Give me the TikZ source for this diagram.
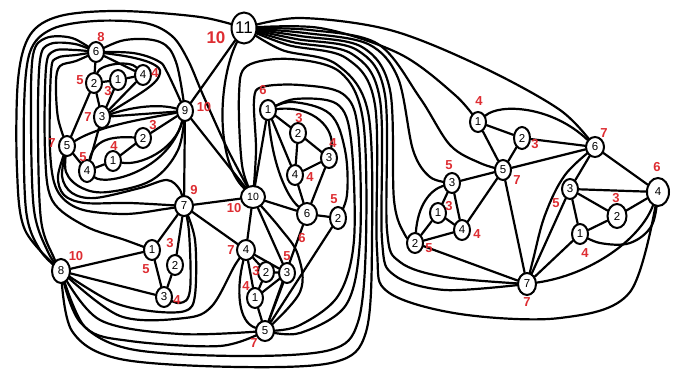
\documentclass[tikz,border=0pt]{standalone}
\usepackage{fontspec}
\setmainfont{Liberation Sans}
\usetikzlibrary{shapes.geometric,backgrounds}
\definecolor{labred}{RGB}{222,45,50}
\begin{document}
\begin{tikzpicture}[x=1pt,y=-1pt,
 v/.style={ellipse,draw,line width=2pt,fill=white,inner sep=0pt,minimum width=16pt,minimum height=20pt,font=\fontsize{11.5}{11.5}\selectfont},
 lab/.style={text=labred,inner sep=0pt,font=\fontsize{13}{13}\selectfont\bfseries},
 e/.style={line width=2.2pt,line cap=round,line join=round}
]
\path[use as bounding box] (0,0) rectangle (680,372);
% ---------- nodes ----------
\node[v,minimum width=21pt,minimum height=31pt,font=\fontsize{17}{17}\selectfont] (K) at (244,28) {11};
\node[v] (a6) at (96,52) {6};
\node[v] (a2) at (94,83) {2};
\node[v] (a1) at (118,80) {1};
\node[v] (a4) at (143,75) {4};
\node[v,minimum height=22pt] (a3) at (102,117) {3};
\node[v] (a9) at (185,111) {9};
\node[v] (a5) at (67,146) {5};
\node[v] (b2) at (143,138) {2};
\node[v] (b1) at (113,161) {1};
\node[v,minimum height=22pt] (b4) at (87,171) {4};
\node[v,minimum width=18pt] (a7) at (184,206) {7};
\node[v,minimum width=24pt,minimum height=22pt,font=\fontsize{10.5}{10.5}\selectfont] (m10) at (253,197) {10};
\node[v,minimum width=18pt,minimum height=24pt] (a8) at (61,271) {8};
\node[v] (c1) at (152,250) {1};
\node[v] (c2) at (175,265) {2};
\node[v] (c3) at (164,297) {3};
\node[v,minimum width=18pt] (d4) at (246,250) {4};
\node[v] (d2) at (266,272) {2};
\node[v] (d3) at (287,273) {3};
\node[v] (d1) at (255,298) {1};
\node[v,minimum width=18pt] (d5) at (265,331) {5};
\node[v] (e1) at (268,110) {1};
\node[v] (e2) at (298,133) {2};
\node[v] (e3) at (329,158) {3};
\node[v] (e4) at (295,175) {4};
\node[v,minimum width=20pt,minimum height=22pt] (e6) at (307,214) {6};
\node[v,minimum height=22pt] (f2) at (338,218) {2};
\node[v] (r1) at (478,122) {1};
\node[v,minimum height=22pt] (r2) at (522,138) {2};
\node[v] (r5) at (503,170) {5};
\node[v,minimum width=18pt] (r6) at (595,147) {6};
\node[v] (r3) at (452,183) {3};
\node[v] (q1) at (438,213) {1};
\node[v] (r4) at (462,230) {4};
\node[v] (q2) at (415,243) {2};
\node[v,minimum width=18pt,minimum height=22pt] (r7) at (527,284) {7};
\node[v] (s3) at (570,189) {3};
\node[v,minimum width=19pt,minimum height=24pt] (s2) at (617,216) {2};
\node[v,minimum width=22pt,minimum height=28pt] (s4) at (658,192) {4};
\node[v] (s1) at (580,234) {1};
% ---------- red labels ----------
\node[lab,font=\fontsize{17}{17}\selectfont\bfseries] (t0) at (216,38) {10};
\node[lab] (t1) at (101,37) {8};
\node[lab] (t2) at (80,80) {5};
\node[lab] (t3) at (108,91) {3};
\node[lab] (t4) at (155,73) {4};
\node[lab] (t5) at (88,117) {7};
\node[lab] (t6) at (204,107) {10};
\node[lab] (t7) at (153,125) {3};
\node[lab] (t8) at (52,143) {7};
\node[lab] (t9) at (114,146) {4};
\node[lab] (t10) at (83,157) {5};
\node[lab] (t11) at (194,190) {9};
\node[lab] (t12) at (234,208) {10};
\node[lab] (t13) at (76,256) {10};
\node[lab] (t14) at (170,243) {3};
\node[lab] (t15) at (146,269) {5};
\node[lab] (t16) at (177,300) {4};
\node[lab] (t17) at (231,250) {7};
\node[lab] (t18) at (256,271) {3};
\node[lab] (t19) at (287,256) {5};
\node[lab] (t20) at (246,286) {4};
\node[lab] (t21) at (254,343) {7};
\node[lab] (t22) at (263,90) {6};
\node[lab] (t23) at (299,118) {3};
\node[lab] (t24) at (333,143) {4};
\node[lab] (t25) at (310,177) {4};
\node[lab] (t26) at (302,238) {6};
\node[lab] (t27) at (334,199) {5};
\node[lab] (t28) at (479,101) {4};
\node[lab] (t29) at (535,144) {3};
\node[lab] (t30) at (517,180) {7};
\node[lab] (t31) at (604,133) {7};
\node[lab] (t32) at (449,165) {5};
\node[lab] (t33) at (449,206) {3};
\node[lab] (t34) at (477,234) {4};
\node[lab] (t35) at (429,248) {5};
\node[lab] (t36) at (527,302) {7};
\node[lab] (t37) at (556,203) {5};
\node[lab] (t38) at (616,198) {3};
\node[lab] (t39) at (657,167) {6};
\node[lab] (t40) at (585,253) {4};
% ---------- edges ----------
\begin{pgfonlayer}{background}
\fill[white] (0,0) rectangle (680,372);
% left cluster
\draw[e] (a6)--(a2) (a2)--(a1) (a1)--(a4) (a6)--(a4) (a2)--(a3) (a1)--(a3) (a4)--(a3)
 (a3)--(a9) (a2)--(a5) (a5)--(b4) (a3)--(b4) (b4)--(b1) (b1)--(b2) (b2)--(a9);
\draw[e] (a2) .. controls (100,64) and (130,60) .. (a4);
\draw[e] plot[smooth,tension=.6] coordinates {(a6.center) (130,57) (153,64) (160,73) (148,88) (a3.center)};
\draw[e] plot[smooth,tension=.6] coordinates {(a6.center) (133,53) (158,61) (167,72) (a9.center)};
\draw[e] (a3) .. controls (135,106) and (160,104) .. (a9);
\draw[e] (a5) .. controls (100,125) and (150,118) .. (a9);
\draw[e] (b4) .. controls (94,140) and (110,136) .. (b2);
\draw[e] (b1) .. controls (140,166) and (175,150) .. (a9);
\draw[e] (b4) .. controls (105,186) and (168,172) .. (a9);
\draw[e] plot[smooth,tension=.6] coordinates {(a6.center) (125,40) (160,42) (176,62) (a9.center)};
\draw[e] plot[smooth,tension=.6] coordinates {(a5.center) (66,172) (82,188) (108,192) (152,180) (178,150) (a9.center)};
% hubs
\draw[e] (K)--(a9) (a9)--(m10) (a9)--(a7) (a7)--(m10) (a7)--(c1) (a7)--(c2) (c1)--(c3) (c2)--(c3)
 (a8)--(c1) (a8)--(c3) (a7)--(d4) (m10)--(d4) (m10)--(e1) (m10)--(e6) (m10)--(d3);
\draw[e] (K) .. controls (218,80) and (215,160) .. (m10);
% wraps on the left
\draw[e] plot[smooth,tension=.55] coordinates {(K.center) (200,17) (120,11) (60,16) (30,35) (18,80) (17,170) (25,230) (a8.center)};
\draw[e] plot[smooth,tension=.55] coordinates {(a8.center) (40,250) (26,210) (24,110) (30,52) (52,29) (95,21) (145,23) (172,36) (188,60) (203,95) (228,150) (m10.center)};
\draw[e] plot[smooth,tension=.55] coordinates {(a6.center) (72,38) (46,38) (33,55) (31,120) (34,210) (48,252) (a8.center)};
\draw[e] plot[smooth,tension=.55] coordinates {(a6.center) (75,44) (50,44) (40,60) (38,130) (41,220) (54,258) (a8.center)};
\draw[e] plot[smooth,tension=.55] coordinates {(a6.center) (75,50) (54,51) (46,68) (45,150) (52,200) (85,226) (125,240) (c1.center)};
\draw[e] plot[smooth,tension=.55] coordinates {(a6.center) (76,55) (57,58) (51,72) (50,150) (57,190) (80,209) (125,214) (165,209) (a7.center)};
\draw[e] plot[smooth,tension=.55] coordinates {(a6.center) (76,61) (60,66) (56,82) (58,118) (a5.center)};
\draw[e] plot[smooth,tension=.55] coordinates {(a5.center) (58,176) (64,195) (85,203) (130,203) (a7.center)};
\draw[e] plot[smooth,tension=.55] coordinates {(a5.center) (62,176) (72,193) (95,198) (140,188) (167,180) (180,190) (a7.center)};
% c and d clusters
\draw[e] plot[smooth,tension=.6] coordinates {(a7.center) (189,232) (190,290) (180,303) (c3.center)};
\draw[e] plot[smooth,tension=.55] coordinates {(a8.center) (110,301) (150,311) (185,311) (195,295) (195,240) (a7.center)};
\draw[e] plot[smooth,tension=.55] coordinates {(a8.center) (120,316) (185,318) (212,306) (235,265) (d4.center)};
\draw[e] plot[smooth,tension=.55] coordinates {(a8.center) (100,320) (180,334) (d5.center)};
\draw[e] plot[smooth,tension=.55] coordinates {(a8.center) (85,327) (130,341) (220,346) (d5.center)};
\draw[e] (d4)--(d2) (d4)--(d3) (d4)--(d1) (d2)--(d3) (d2)--(d1) (d1)--(d3) (d1)--(d5) (d3)--(d5) (e6)--(d5) (f2)--(d5);
\draw[e] (d4) .. controls (236,290) and (238,322) .. (d5);
\draw[e] plot[smooth,tension=.6] coordinates {(m10.center) (280,228) (298,255) (300,292) (d5.center)};
% e cluster
\draw[e] (e1)--(e2) (e2)--(e3) (e2)--(e4) (e3)--(e4) (e1)--(e4) (e4)--(e6) (e3)--(e6) (e6)--(f2);
\draw[e] (e1) .. controls (272,160) and (285,195) .. (e6);
\draw[e] (e1) .. controls (315,105) and (335,130) .. (e3);
\draw[e] plot[smooth,tension=.6] coordinates {(e1.center) (292,102) (330,114) (345,150) (347,195) (f2.center)};
\draw[e] plot[smooth,tension=.55] coordinates {(e1.center) (295,99) (337,104) (351,140) (354,240) (338,296) (298,326) (d5.center)};
\draw[e] plot[smooth,tension=.55] coordinates {(m10.center) (256,150) (254,100) (262,87) (300,85) (343,94) (358,130) (360,240) (346,305) (300,333) (d5.center)};
\draw[e] plot[smooth,tension=.55] coordinates {(m10.center) (242,165) (239,95) (247,66) (290,59) (340,72) (363,120) (366,240) (358,322) (330,350) (240,356) (130,349) (80,322) (a8.center)};
\draw[e] plot[smooth,tension=.55] coordinates {(K.center) (282,50) (336,64) (368,112) (372,240) (366,332) (335,362) (240,367) (120,359) (72,331) (a8.center)};
% lines from 11 to the right cluster
\draw[e] plot[smooth,tension=.55] coordinates {(K.center) (288,45) (346,58) (375,105) (377,250) (388,292) (460,314) (560,318) (630,292) (s4.center)};
\draw[e] plot[smooth,tension=.55] coordinates {(K.center) (292,42) (352,54) (380,100) (382,240) (394,275) (445,290) (r7.center)};
\draw[e] plot[smooth,tension=.55] coordinates {(K.center) (296,39) (357,50) (385,95) (387,230) (400,262) (445,277) (r7.center)};
\draw[e] plot[smooth,tension=.55] coordinates {(K.center) (300,36) (362,47) (390,90) (394,200) (405,235) (q2.center)};
\draw[e] plot[smooth,tension=.55] coordinates {(K.center) (305,33) (368,44) (398,78) (413,150) (430,177) (r3.center)};
\draw[e] plot[smooth,tension=.55] coordinates {(K.center) (310,30) (378,44) (420,98) (450,145) (480,163) (r5.center)};
\draw[e] plot[smooth,tension=.55] coordinates {(K.center) (320,28) (400,54) (455,95) (r1.center)};
\draw[e] plot[smooth,tension=.55] coordinates {(K.center) (300,18) (390,30) (480,66) (560,110) (r6.center)};
% right cluster
\draw[e] (r1)--(r2) (r1)--(r5) (r2)--(r5) (r2)--(r6) (r5)--(r6) (r3)--(r5) (r4)--(r5) (r3)--(q1) (r3)--(r4)
 (q1)--(r4) (q1)--(q2) (q2)--(r4) (r5)--(r7) (q2)--(r7) (r6)--(s4) (r6)--(s3) (s3)--(s4) (s3)--(s2)
 (s3)--(s1) (s1)--(s2) (s2)--(s4) (s3)--(r7) (s1)--(r7);
\draw[e] (r1) .. controls (500,103) and (552,106) .. (r6);
\draw[e] (q2) .. controls (418,205) and (430,190) .. (r3);
\draw[e] plot[smooth,tension=.6] coordinates {(r6.center) (565,175) (545,215) (533,260) (r7.center)};
\draw[e] (s4) .. controls (640,240) and (590,275) .. (r7);
\draw[e] plot[smooth,tension=.6] coordinates {(s1.center) (600,243) (630,243) (652,225) (s4.center)};
\end{pgfonlayer}
\end{tikzpicture}
\end{document}
